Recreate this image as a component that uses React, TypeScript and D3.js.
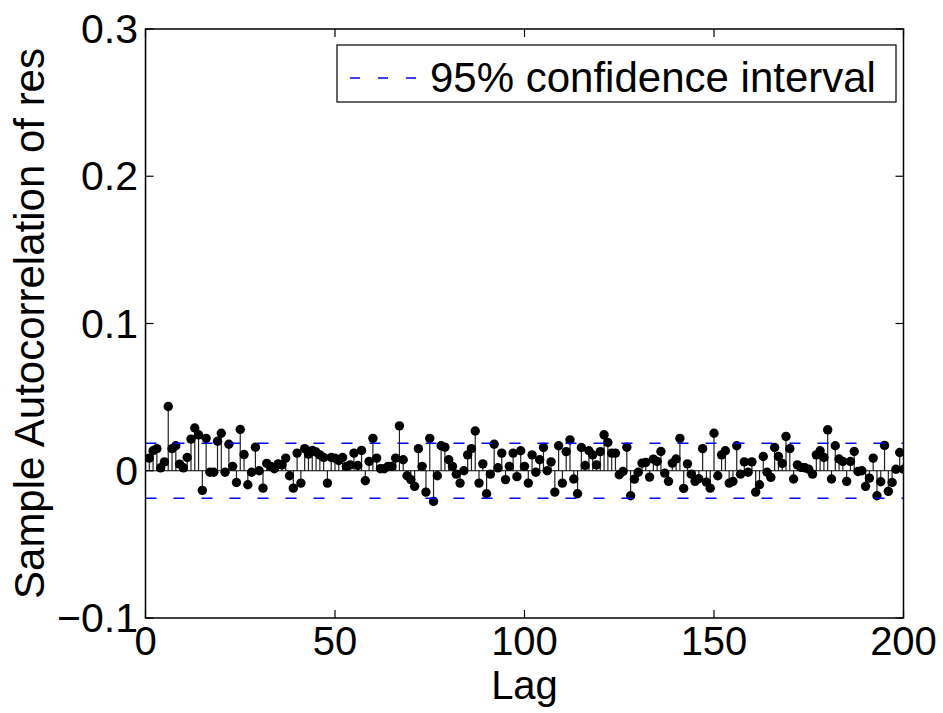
import React from "react";
import * as d3 from "d3";

const acfValues: number[] = [
  1,
  0.0086, 0.0136, 0.015, 0.002, 0.006, 0.0436, 0.015, 0.017, 0.0045, 0.002,
  0.009, 0.0215, 0.029, 0.0244, -0.0133, 0.022, -0.001, -0.001, 0.02, 0.0255,
  -0.001, 0.018, 0.003, -0.008, 0.028, 0.011, -0.0095, -0.001, 0.016, 0.0,
  -0.0118, 0.005, 0.003, 0.0014, 0.0047, 0.004, 0.0086, -0.0034, -0.0118, 0.012,
  -0.0084, 0.015, 0.0113, 0.0138, 0.0127, 0.0108, 0.009, -0.0084, 0.009, 0.0086,
  0.007, 0.009, 0.003, 0.004, 0.012, 0.0036, 0.0138, -0.0068, 0.0063, 0.022,
  0.0086, 0.0014, 0.0014, 0.003, 0.003, 0.0086, 0.0305, 0.0075, -0.0034, -0.006,
  -0.0106, 0.015, 0.003, -0.0145, 0.022, -0.0208, -0.0034, 0.017, 0.016, 0.0075,
  0.003, -0.0023, -0.0084, 0.0, 0.0108, 0.015, 0.027, -0.0084, 0.0047, -0.0156,
  -0.0023, 0.018, 0.002, 0.012, -0.006, 0.003, 0.012, -0.004, 0.0136, 0.003,
  -0.0084, 0.0108, -0.001, 0.0075, 0.0158, 0.0, 0.006, -0.0145, 0.017, -0.0084,
  0.013, 0.021, -0.0056, -0.0156, 0.0158, 0.0036, 0.0136, 0.0108, 0.004, 0.013,
  0.0244, 0.0192, 0.012, 0.012, -0.0027, -0.0005, 0.016, -0.017, -0.0057, -0.001,
  0.0052, 0.0057, -0.0043, 0.0079, 0.0063, 0.0131, -0.0016, -0.0072, 0.0052, 0.008,
  0.022, -0.012, 0.0047, -0.0023, -0.0072, -0.0054, 0.015, -0.0077, -0.0118, 0.0255,
  -0.0034, 0.0108, 0.0136, -0.0084, -0.0072, 0.017, -0.0023, 0.006, -0.001, 0.006,
  -0.0145, -0.0095, 0.0097, -0.001, -0.0045, 0.0158, 0.0097, 0.005, 0.0233, 0.015,
  -0.0056, 0.004, 0.0023, 0.002, 0.001, -0.0023, 0.0108, 0.0136, 0.009, 0.0278,
  -0.0056, 0.017, 0.008, 0.0063, -0.0072, 0.0063, 0.0131, -0.0005, 0.0, -0.0106,
  -0.005, 0.0086, -0.017, -0.0075, 0.0172, -0.014, -0.008, 0.001, 0.0124, 0.001,
];

const confBound = 0.0187;
const xTicks = [0, 50, 100, 150, 200];
const yTicks = [-0.1, 0, 0.1, 0.2, 0.3];
const yTickLabels = ["\u22120.1", "0", "0.1", "0.2", "0.3"];
const xLabel = "Lag";
const yLabel = "Sample Autocorrelation of res";
const legendLabel = "95% confidence interval";

const W = 943;
const H = 713;
const left = 145.5;
const right = 903.5;
const top = 29;
const bottom = 618;
const FONT = "'Liberation Sans', Arial, Helvetica, sans-serif";

export default function App() {
  const x = d3.scaleLinear().domain([0, 200]).range([left, right]);
  const y = d3.scaleLinear().domain([-0.1, 0.3]).range([bottom, top]);
  const tickLen = 8;
  return (
    <svg
      width={W}
      height={H}
      style={{ position: "absolute", left: 0, top: 0, background: "#fff" }}
      fontFamily={FONT}
    >
      <defs>
        <clipPath id="plotClip">
          <rect x={left} y={top} width={right - left} height={bottom - top} />
        </clipPath>
      </defs>
      <rect x={0} y={0} width={W} height={H} fill="#fff" />
      <g clipPath="url(#plotClip)">
        {acfValues.map((v, i) => (
          <line
            key={"s" + i}
            x1={x(i)}
            x2={x(i)}
            y1={y(0)}
            y2={y(v)}
            stroke="#222"
            strokeWidth={1.2}
          />
        ))}
        <line x1={x(0)} x2={x(200)} y1={y(0)} y2={y(0)} stroke="#000" strokeWidth={1.2} />
        {acfValues.map((v, i) => (
          <circle key={"c" + i} cx={x(i)} cy={y(v)} r={4.7} fill="#000" />
        ))}
        <line
          x1={x(0)}
          x2={x(200)}
          y1={y(confBound)}
          y2={y(confBound)}
          stroke="#0000ff"
          strokeWidth={1.4}
          strokeDasharray="11 17"
        />
        <line
          x1={x(0)}
          x2={x(200)}
          y1={y(-confBound)}
          y2={y(-confBound)}
          stroke="#0000ff"
          strokeWidth={1.4}
          strokeDasharray="11 17"
        />
      </g>
      <rect
        x={left}
        y={top}
        width={right - left}
        height={bottom - top}
        fill="none"
        stroke="#000"
        strokeWidth={1.5}
      />
      {xTicks.map((t) => (
        <g key={"xt" + t}>
          <line x1={x(t)} x2={x(t)} y1={bottom} y2={bottom - tickLen} stroke="#000" strokeWidth={1.2} />
          <line x1={x(t)} x2={x(t)} y1={top} y2={top + tickLen} stroke="#000" strokeWidth={1.2} />
          <text x={x(t)} y={655} textAnchor="middle" fontSize={40} fill="#000">
            {t}
          </text>
        </g>
      ))}
      {yTicks.map((t, i) => (
        <g key={"yt" + t}>
          <line x1={left} x2={left + tickLen} y1={y(t)} y2={y(t)} stroke="#000" strokeWidth={1.2} />
          <line x1={right} x2={right - tickLen} y1={y(t)} y2={y(t)} stroke="#000" strokeWidth={1.2} />
          <text
            x={138}
            y={y(t) + 14}
            textAnchor="end"
            fontSize={41}
            fill="#000"
          >
            {yTickLabels[i]}
          </text>
        </g>
      ))}
      <text x={(left + right) / 2} y={699} textAnchor="middle" fontSize={40} fill="#000">
        {xLabel}
      </text>
      <text
        transform={`translate(44, ${(top + bottom) / 2}) rotate(-90)`}
        textAnchor="middle"
        fontSize={42}
        fill="#000"
      >
        {yLabel}
      </text>
      <rect x={337} y={45} width={559} height={57} fill="#fff" stroke="#000" strokeWidth={1.2} />
      <line x1={350} x2={427} y1={78} y2={78} stroke="#0000ff" strokeWidth={1.4} strokeDasharray="10 18" />
      <text x={430} y={92} fontSize={42} fill="#000">
        {legendLabel}
      </text>
    </svg>
  );
}
